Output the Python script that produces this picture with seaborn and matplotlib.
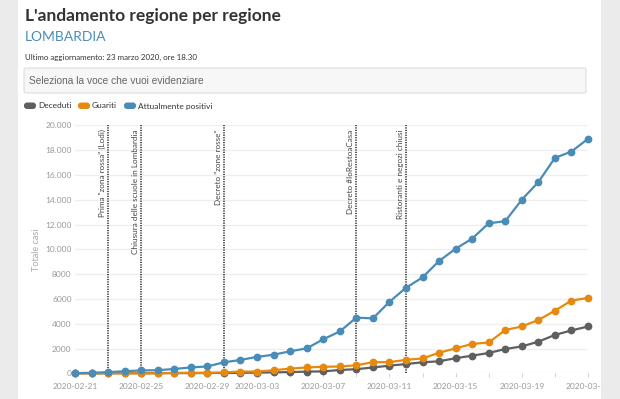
import pandas as pd
import matplotlib
matplotlib.use("Agg")
import matplotlib.pyplot as plt
import matplotlib.dates as mdates
from matplotlib.patches import Rectangle, FancyBboxPatch
from matplotlib.transforms import IdentityTransform
from matplotlib.ticker import FuncFormatter, FixedLocator
import seaborn as sns

# Data (Lombardia)
dates = pd.date_range("2020-02-21", "2020-03-23", freq="D")
deceduti = [0, 1, 3, 6, 9, 9, 14, 17, 23, 24, 38, 55, 73, 98, 135, 154, 267, 333,
            468, 617, 744, 890, 966, 1218, 1420, 1640, 1959, 2168, 2549, 3095, 3456, 3776]
guariti = [0, 0, 0, 0, 0, 0, 40, 40, 40, 73, 139, 139, 250, 376, 469, 524, 550, 646,
           896, 900, 1085, 1198, 1660, 2011, 2368, 2485, 3488, 3778, 4295, 5050, 5865, 6075]
positivi = [15, 40, 95, 166, 231, 249, 349, 474, 552, 887, 1077, 1326, 1497, 1777, 2008,
            2742, 3372, 4490, 4427, 5763, 6896, 7732, 9059, 10043, 10861, 12095, 12266,
            14001, 15420, 17370, 17885, 18910]

series_names = ["Deceduti", "Guariti", "Attualmente positivi"]
series_colors = ["#5f5f5f", "#e8890f", "#4a8cb8"]

events = [
    ("2020-02-23", 'Prima "zona rossa" (Lodi)'),
    ("2020-02-25", "Chiusura delle scuole in Lombardia"),
    ("2020-03-01", 'Decreto "zone rosse"'),
    ("2020-03-09", "Decreto #IoRestoaCasa"),
    ("2020-03-12", "Ristoranti e negozi chiusi"),
]

label_dates = pd.to_datetime(["2020-02-21", "2020-02-25", "2020-02-29", "2020-03-03", "2020-03-07",
                              "2020-03-11", "2020-03-15", "2020-03-19", "2020-03-23"])
minor_dates = pd.to_datetime(["2020-02-23", "2020-02-27", "2020-03-01", "2020-03-05",
                              "2020-03-09", "2020-03-13", "2020-03-17", "2020-03-21"])

sns.set_theme(style="white")
plt.rcParams['font.family'] = ['Lato', 'DejaVu Sans']

W, H = 620, 399
fig = plt.figure(figsize=(W / 100, H / 100), dpi=100)
fig.patch.set_facecolor("#ebebeb")

# white page panel
fig.add_artist(Rectangle((18, 0), 583, H, transform=IdentityTransform(),
                         facecolor="white", edgecolor="none", zorder=-5))


def fy(y):
    return 1 - y / H


# header texts
fig.text(25 / W, fy(21), "L'andamento regione per regione", fontsize=12.5,
         fontweight="bold", color="#333333", va="baseline")
fig.text(25 / W, fy(41), "LOMBARDIA", fontsize=10, color="#4a8cb8", va="baseline")
fig.text(25 / W, fy(60), "Ultimo aggiornamento: 23 marzo 2020, ore 18.30", fontsize=5.7,
         color="#333333", va="baseline")

# dropdown box
fig.add_artist(FancyBboxPatch((24, H - 93), 562, 25, boxstyle="round,pad=0,rounding_size=2",
                              transform=IdentityTransform(), facecolor="#f7f7f7",
                              edgecolor="#dddddd", linewidth=0.8, zorder=1))
fig.text(29 / W, fy(84), "Seleziona la voce che vuoi evidenziare", fontsize=7.3,
         family=["Liberation Sans", "DejaVu Sans"], color="#666666", va="baseline")

# legend pills
leg_x = [24, 78, 124]
for x0, name, col in zip(leg_x, series_names, series_colors):
    fig.add_artist(FancyBboxPatch((x0, H - 109), 12, 6.5, boxstyle="round,pad=0,rounding_size=3",
                                  transform=IdentityTransform(), facecolor=col,
                                  edgecolor="none", zorder=1))
    fig.text((x0 + 14) / W, fy(108.5), name, fontsize=6, color="#333333", va="baseline")

# main axes
ax = fig.add_axes([75 / W, fy(373.3), (588 - 75) / W, (373.3 - 125.3) / H])
ax.set_facecolor("none")

for vals, col in zip([deceduti, guariti, positivi], series_colors):
    sns.lineplot(x=dates, y=vals, ax=ax, color=col, marker="o", markersize=5.6,
                 markeredgewidth=0, linewidth=1.6, clip_on=False, zorder=3)

ax.set_xlim(dates[0], dates[-1])
ax.set_ylim(0, 20000)
ax.set_yticks(range(0, 20001, 2000))
ax.yaxis.set_major_formatter(FuncFormatter(
    lambda v, p: f"{int(v):,}".replace(",", ".") if v >= 10000 else f"{int(v)}"))
ax.grid(axis="y", color="#eeeeee", linewidth=0.9)
ax.set_axisbelow(True)
for s in ax.spines.values():
    s.set_visible(False)

ax.xaxis.set_major_locator(FixedLocator(mdates.date2num(label_dates)))
ax.xaxis.set_minor_locator(FixedLocator(mdates.date2num(minor_dates)))
ax.xaxis.set_major_formatter(mdates.DateFormatter("%Y-%m-%d"))
ax.tick_params(axis="x", which="both", length=3, width=0.6, color="#cccccc",
               labelsize=6, labelcolor="#999999", pad=4, bottom=True)
ax.tick_params(axis="y", length=0, labelsize=6, labelcolor="#999999", pad=2.5)
ax.set_xlabel("")
ax.set_ylabel("Totale casi", fontsize=6.6, color="#aaaaaa", labelpad=3)

for d, txt in events:
    dd = pd.Timestamp(d)
    ax.axvline(dd, color="#222222", linestyle=(0, (0.8, 0.8)), linewidth=1.1, zorder=2)
    ax.annotate(txt, xy=(dd, 1), xycoords=("data", "axes fraction"), xytext=(-1.5, -3),
                textcoords="offset points", rotation=90, ha="right", va="top",
                fontsize=5.9, color="#444444")

# right page margin hides the clipped last tick label
fig.add_artist(Rectangle((601, 0), W - 601, H, transform=IdentityTransform(),
                         facecolor="#ebebeb", edgecolor="none", zorder=10))

fig.savefig("out.png", dpi=100)
